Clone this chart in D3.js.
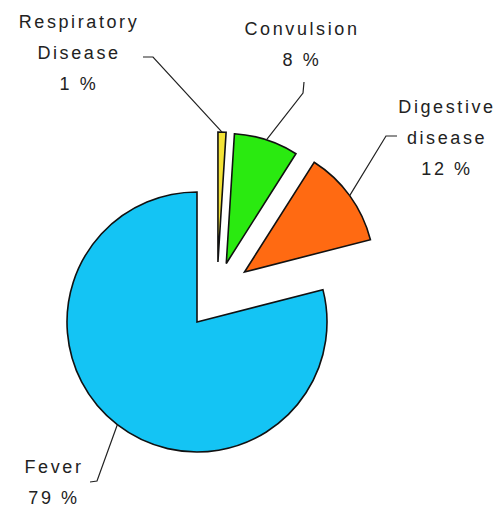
<!DOCTYPE html>
<meta charset="utf-8">
<body style="margin:0;background:#fff">
<script src="https://d3js.org/d3.v7.min.js"></script>
<div id="my_dataviz"></div>
</body>

<script>

// Data
var categories = ["Respiratory Disease", "Convulsion", "Digestive disease", "Fever"]
var labelLines = [["Respiratory", "Disease"], ["Convulsion"], ["Digestive", "disease"], ["Fever"]]
var values = [1, 8, 12, 79]
var colors = ["#f3e336", "#2aea10", "#ff6a12", "#14c4f4"]

// Layout (pixels)
var width = 499, height = 510
var cx = 197, cy = 322, radius = 130
var shift = [20, -30]              // the small slices are pulled up together...
var explode = [30, 30, 34, 0]      // ...and then each one along its own middle
var labelPos = [[79, 28], [302, 35], [447, 113], [54, 473]]
var leaderPts = [
  [[153, 57], [143, 57]],
  [[303, 93], [304, 82]],
  [[386, 136], [397, 136]],
  [[97, 481], [90, 482]]
]

var svg = d3.select("#my_dataviz")
  .append("svg")
    .attr("width", width)
    .attr("height", height)
    .style("font-family", "'Liberation Sans', Arial, sans-serif")

var pie = d3.pie().sort(null).value(function(d) { return d.value })
var arc = d3.arc().innerRadius(0).outerRadius(radius)

var data = categories.map(function(c, i) {
  return {name: c, value: values[i], i: i}
})
var arcs = pie(data)

// centre of every slice after it has been pulled out
function sliceCenter(d) {
  var i = d.data.i
  if (explode[i] === 0) return [cx, cy]
  var mid = (d.startAngle + d.endAngle) / 2
  return [cx + shift[0] + explode[i] * Math.sin(mid),
          cy + shift[1] - explode[i] * Math.cos(mid)]
}

// slices (Fever first so the others sit on top)
var order = arcs.slice().reverse()
svg.selectAll(".slice")
  .data(order)
  .join("path")
    .attr("class", "slice")
    .attr("transform", function(d) { var c = sliceCenter(d); return "translate(" + c[0] + "," + c[1] + ")" })
    .attr("d", arc)
    .style("fill", function(d) { return colors[d.data.i] })
    .style("stroke", "#111")
    .style("stroke-width", 1.6)
    .style("stroke-linejoin", "miter")

// leader lines from the arc to the labels
var line = d3.line()
svg.selectAll(".leader")
  .data(arcs)
  .join("path")
    .attr("class", "leader")
    .attr("d", function(d) {
      var c = sliceCenter(d)
      var mid = (d.startAngle + d.endAngle) / 2
      var start = [c[0] + radius * Math.sin(mid), c[1] - radius * Math.cos(mid)]
      return line([start].concat(leaderPts[d.data.i]))
    })
    .style("fill", "none")
    .style("stroke", "#222")
    .style("stroke-width", 1.2)

// labels: name lines then the percentage
var total = d3.sum(values)
var lab = svg.selectAll(".label")
  .data(arcs)
  .join("text")
    .attr("class", "label")
    .attr("text-anchor", "middle")
    .style("font-size", "18px")
    .style("letter-spacing", "2.6px")
    .style("fill", "#222")

lab.each(function(d) {
  var i = d.data.i
  var lines = labelLines[i].concat([Math.round(d.value / total * 100) + " %"])
  d3.select(this).selectAll("tspan")
    .data(lines)
    .join("tspan")
      .attr("x", labelPos[i][0])
      .attr("y", function(t, k) { return labelPos[i][1] + k * 31 })
      .text(function(t) { return t })
})

</script>
